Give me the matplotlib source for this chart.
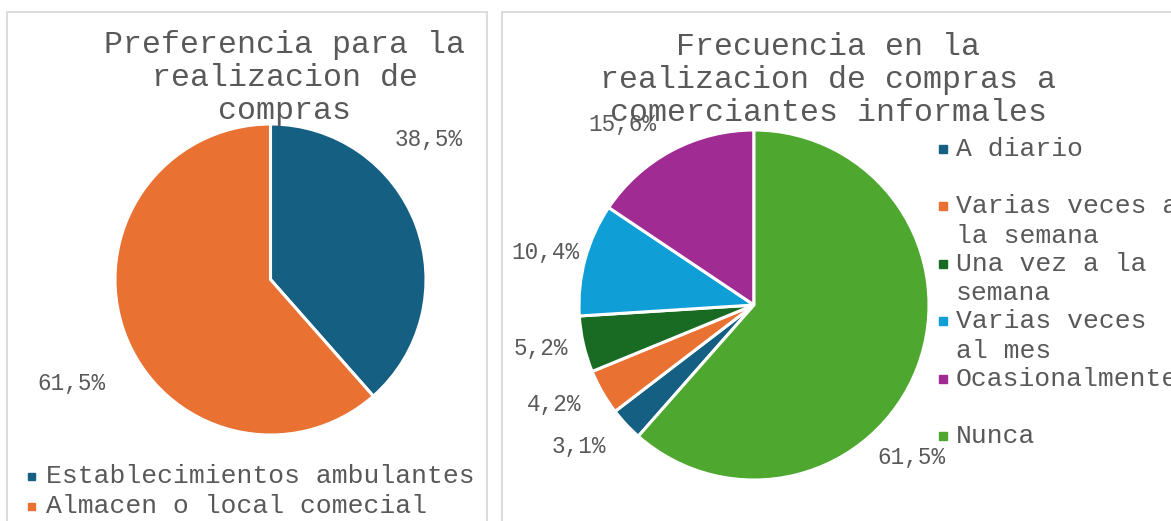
import matplotlib
matplotlib.use("Agg")
import matplotlib.pyplot as plt
from matplotlib.patches import Rectangle

plt.rcParams['font.family'] = ['Liberation Mono', 'DejaVu Sans Mono']

W, H = 1171, 521
TXT = '#595959'
BORDER = '#D9D9D9'

# datos
pref_title = "Preferencia para la\nrealizacion de\ncompras"
pref_labels = ["Establecimientos ambulantes", "Almacen o local comecial"]
pref_values = [38.5, 61.5]
pref_colors = ['#156082', '#E97132']

freq_title = "Frecuencia en la\nrealizacion de compras a\ncomerciantes informales"
freq_labels = ["A diario", "Varias veces a\nla semana", "Una vez a la\nsemana",
               "Varias veces\nal mes", "Ocasionalmente", "Nunca"]
freq_values = [3.1, 4.2, 5.2, 10.4, 15.6, 61.5]
freq_colors = ['#156082', '#E97132', '#196B24', '#0F9ED5', '#A02B93', '#4EA72E']

# posiciones de etiquetas (en radios)
pref_lab_pos = [(1.02, 0.90), (-1.28, -0.67)]
freq_lab_pos = [(-1.00, -0.81), (-1.14, -0.57), (-1.22, -0.25),
                (-1.19, 0.30), (-0.75, 1.03), (0.90, -0.87)]


def pct(v):
    return f"{v:.1f}%".replace('.', ',')


def fx(x):
    return x / W


def fy(y):
    return 1 - y / H


fig = plt.figure(figsize=(W / 100, H / 100), dpi=100)

# marcos de los paneles
for x0, x1 in [(7, 487), (502, 1180)]:
    fig.patches.append(Rectangle((fx(x0), fy(530)), fx(x1 - x0), (530 - 12) / H,
                                 transform=fig.transFigure, fill=False,
                                 edgecolor=BORDER, linewidth=1.3))


def draw_pie(cx, cy, r, values, colors, startangle, lab_pos):
    ax = fig.add_axes([fx(cx - r), fy(cy + r), fx(2 * r), 2 * r / H])
    ax.pie(values, colors=colors, startangle=startangle, counterclock=False,
           wedgeprops=dict(edgecolor='white', linewidth=2.2))
    ax.set_xlim(-1, 1)
    ax.set_ylim(-1, 1)
    ax.set_aspect('equal')
    ax.axis('off')
    for v, (x, y) in zip(values, lab_pos):
        ax.text(x, y, pct(v), ha='center', va='center', fontsize=16.3, color=TXT)
    return ax


draw_pie(270.5, 279.5, 155.5, pref_values, pref_colors, 90, pref_lab_pos)
draw_pie(754, 305, 175, freq_values, freq_colors,
         90 - freq_values[-1] * 3.6, freq_lab_pos)

# títulos
fig.text(fx(285), fy(78), pref_title, ha='center', va='center', fontsize=22.8,
         color=TXT, linespacing=1.14)
fig.text(fx(828), fy(80), freq_title, ha='center', va='center', fontsize=22.8,
         color=TXT, linespacing=1.14)

# leyenda izquierda
for i, (lab, col) in enumerate(zip(pref_labels, pref_colors)):
    y = 476 + i * 30
    fig.patches.append(Rectangle((fx(28), fy(y + 3.5)), fx(7), 7 / H,
                                 transform=fig.transFigure, color=col))
    fig.text(fx(46), fy(y), lab, ha='left', va='center', fontsize=19, color=TXT)

# leyenda derecha
for i, (lab, col) in enumerate(zip(freq_labels, freq_colors)):
    y = 149 + i * 57.4
    fig.patches.append(Rectangle((fx(938.5), fy(y + 4)), fx(8), 8 / H,
                                 transform=fig.transFigure, color=col))
    for k, line in enumerate(lab.split('\n')):
        fig.text(fx(956), fy(y + k * 29.5), line, ha='left', va='center',
                 fontsize=19, color=TXT)

fig.savefig('out.png', dpi=100)
